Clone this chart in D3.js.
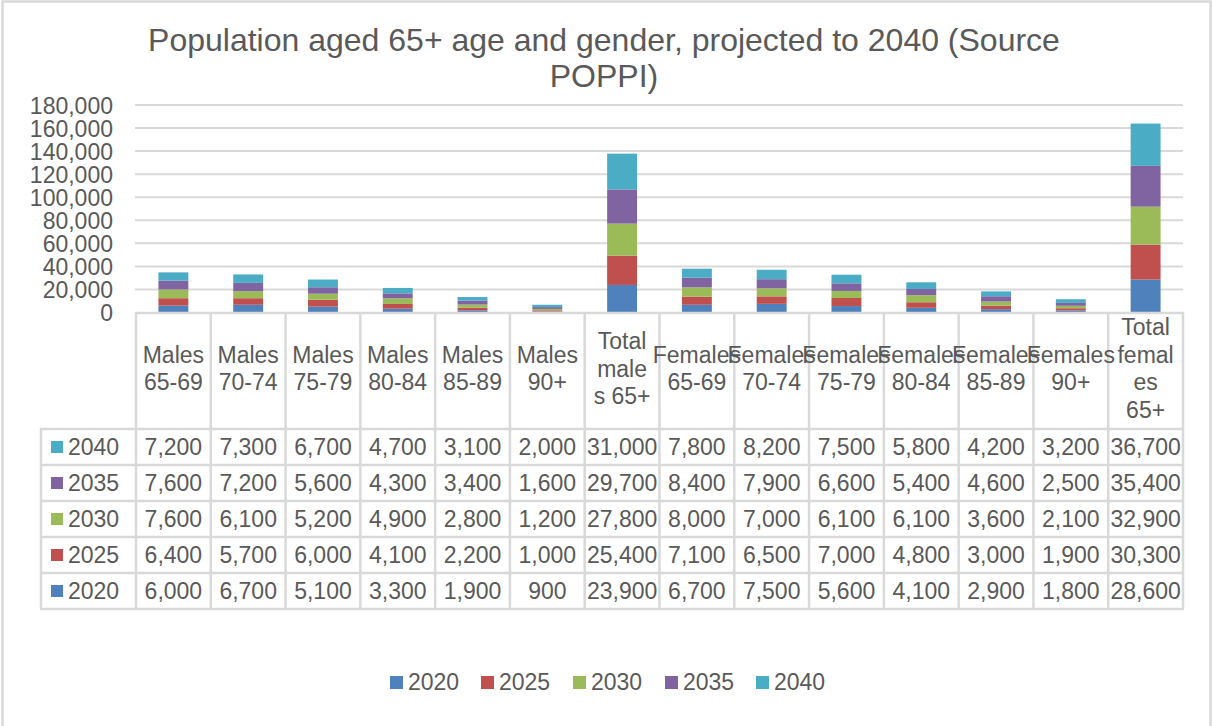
<!DOCTYPE html>
<html>
<head>
<meta charset="utf-8">
<script src="https://cdnjs.cloudflare.com/ajax/libs/d3/7.8.5/d3.min.js"></script>
<style>
  html, body { margin: 0; padding: 0; background: #fff; }
  svg { display: block; font-family: "Liberation Sans", Arial, sans-serif; }
</style>
</head>
<body>
<svg id="chart" width="1213" height="726"></svg>
<script>
// Population aged 65+ by age band and gender, projections (POPPI)
const categories = [
  "Males 65-69", "Males 70-74", "Males 75-79", "Males 80-84", "Males 85-89", "Males 90+",
  "Total males 65+",
  "Females 65-69", "Females 70-74", "Females 75-79", "Females 80-84", "Females 85-89", "Females 90+",
  "Total females 65+"
];
// header labels as they wrap inside the table cells
const headerLines = [
  ["Males", "65-69"], ["Males", "70-74"], ["Males", "75-79"], ["Males", "80-84"], ["Males", "85-89"], ["Males", "90+"],
  ["Total", "male", "s 65+"],
  ["Females", "65-69"], ["Females", "70-74"], ["Females", "75-79"], ["Females", "80-84"], ["Females", "85-89"], ["Females", "90+"],
  ["Total", "femal", "es", "65+"]
];
const years = ["2020", "2025", "2030", "2035", "2040"];
const values2020 = [6000, 6700, 5100, 3300, 1900, 900, 23900, 6700, 7500, 5600, 4100, 2900, 1800, 28600];
const values2025 = [6400, 5700, 6000, 4100, 2200, 1000, 25400, 7100, 6500, 7000, 4800, 3000, 1900, 30300];
const values2030 = [7600, 6100, 5200, 4900, 2800, 1200, 27800, 8000, 7000, 6100, 6100, 3600, 2100, 32900];
const values2035 = [7600, 7200, 5600, 4300, 3400, 1600, 29700, 8400, 7900, 6600, 5400, 4600, 2500, 35400];
const values2040 = [7200, 7300, 6700, 4700, 3100, 2000, 31000, 7800, 8200, 7500, 5800, 4200, 3200, 36700];
const yTicks = [0, 20000, 40000, 60000, 80000, 100000, 120000, 140000, 160000, 180000];
const colors = ["#4F81BD", "#C0504D", "#9BBB59", "#8064A2", "#4BACC6"];

const seriesValues = [values2020, values2025, values2030, values2035, values2040];
const rows = categories.map((c, i) => {
  const r = { category: c };
  years.forEach((y, k) => { r[y] = seriesValues[k][i]; });
  return r;
});

const svg = d3.select("#chart");
const textColor = "#595959";
const gridColor = "#D9D9D9";
const fmt = d3.format(",");

// chart frame
svg.append("rect").attr("x", 0).attr("y", 0).attr("width", 1213).attr("height", 726).attr("fill", "#fff");
svg.append("rect")
  .attr("x", 2.5).attr("y", 1.5).attr("width", 1208).attr("height", 740)
  .attr("fill", "none").attr("stroke", gridColor).attr("stroke-width", 2.5);

// title
const title = svg.append("text")
  .attr("text-anchor", "middle")
  .attr("fill", textColor)
  .attr("font-size", 32);
title.append("tspan").attr("x", 604).attr("y", 51).text("Population aged 65+ age and gender, projected to 2040 (Source");
title.append("tspan").attr("x", 604).attr("y", 87).text("POPPI)");

// scales
const plotLeft = 136, plotRight = 1183;
const x = d3.scaleBand().domain(categories).range([plotLeft, plotRight]).padding(0);
const y = d3.scaleLinear().domain([0, 180000]).range([312.5, 105]);
const color = d3.scaleOrdinal().domain(years).range(colors);

// gridlines
svg.append("g")
  .selectAll("line")
  .data(yTicks.filter(t => t > 0))
  .join("line")
  .attr("x1", plotLeft - 1).attr("x2", plotRight)
  .attr("y1", d => y(d)).attr("y2", d => y(d))
  .attr("stroke", gridColor).attr("stroke-width", 2);

// y axis labels
const yAxis = d3.axisLeft(y).tickValues(yTicks).tickFormat(fmt).tickSize(0).tickPadding(0);
const yg = svg.append("g").attr("transform", "translate(113,0)").call(yAxis);
yg.select(".domain").remove();
yg.selectAll("text")
  .attr("fill", textColor)
  .attr("font-size", 23)
  .attr("font-family", "Liberation Sans, Arial, sans-serif")
  .attr("dy", "0.35em");

// stacked bars
const stack = d3.stack().keys(years);
const stacked = stack(rows);
const barW = x.bandwidth() * 0.4;
svg.append("g")
  .selectAll("g")
  .data(stacked)
  .join("g")
  .attr("fill", d => color(d.key))
  .selectAll("rect")
  .data(d => d)
  .join("rect")
  .attr("x", d => x(d.data.category) + (x.bandwidth() - barW) / 2)
  .attr("width", barW)
  .attr("y", d => y(d[1]))
  .attr("height", d => y(d[0]) - y(d[1]));

// data table
const headTop = 313, headBottom = 429, rowH = 36, tableLeft = 41;
const tableRows = years.slice().reverse();
const tableBottom = headBottom + rowH * tableRows.length;
const tg = svg.append("g");

// horizontal rules
tg.append("line")
  .attr("x1", plotLeft - 1).attr("x2", plotRight + 1)
  .attr("y1", headTop).attr("y2", headTop)
  .attr("stroke", gridColor).attr("stroke-width", 2.5);
tg.selectAll("line.h")
  .data(d3.range(tableRows.length + 1))
  .join("line")
  .attr("class", "h")
  .attr("x1", tableLeft - 1).attr("x2", plotRight + 1)
  .attr("y1", i => headBottom + i * rowH).attr("y2", i => headBottom + i * rowH)
  .attr("stroke", gridColor).attr("stroke-width", 2.5);

// vertical rules
const colEdges = categories.map(c => x(c)).concat([plotRight]);
tg.selectAll("line.v")
  .data(colEdges)
  .join("line")
  .attr("class", "v")
  .attr("x1", d => d).attr("x2", d => d)
  .attr("y1", headTop).attr("y2", tableBottom)
  .attr("stroke", gridColor).attr("stroke-width", 2.5);
tg.append("line")
  .attr("x1", tableLeft).attr("x2", tableLeft)
  .attr("y1", headBottom).attr("y2", tableBottom)
  .attr("stroke", gridColor).attr("stroke-width", 2.5);

// header labels
const lineGap = 27.5, headMid = 376.5;
categories.forEach((c, i) => {
  const lines = headerLines[i];
  const t = tg.append("text")
    .attr("text-anchor", "middle")
    .attr("fill", textColor)
    .attr("font-size", 23);
  lines.forEach((ln, k) => {
    t.append("tspan")
      .attr("x", x(c) + x.bandwidth() / 2)
      .attr("y", headMid - (lines.length - 1) * lineGap / 2 + k * lineGap)
      .text(ln);
  });
});

// series rows
tableRows.forEach((yr, r) => {
  const cy = headBottom + r * rowH + rowH / 2;
  tg.append("rect")
    .attr("x", 51).attr("y", cy - 6).attr("width", 12).attr("height", 12)
    .attr("fill", color(yr));
  tg.append("text")
    .attr("x", 68).attr("y", cy + 8)
    .attr("fill", textColor).attr("font-size", 23)
    .text(yr);
  tg.selectAll(null)
    .data(rows)
    .join("text")
    .attr("x", d => x(d.category) + x.bandwidth() / 2)
    .attr("y", cy + 8)
    .attr("text-anchor", "middle")
    .attr("fill", textColor).attr("font-size", 23)
    .text(d => fmt(d[yr]));
});

// legend
const legendX = [390, 481, 573, 665, 756];
const lg = svg.append("g");
years.forEach((yr, i) => {
  lg.append("rect")
    .attr("x", legendX[i]).attr("y", 676).attr("width", 13).attr("height", 13)
    .attr("fill", color(yr));
  lg.append("text")
    .attr("x", legendX[i] + 18).attr("y", 690)
    .attr("fill", textColor).attr("font-size", 23)
    .text(yr);
});
</script>
</body>
</html>
